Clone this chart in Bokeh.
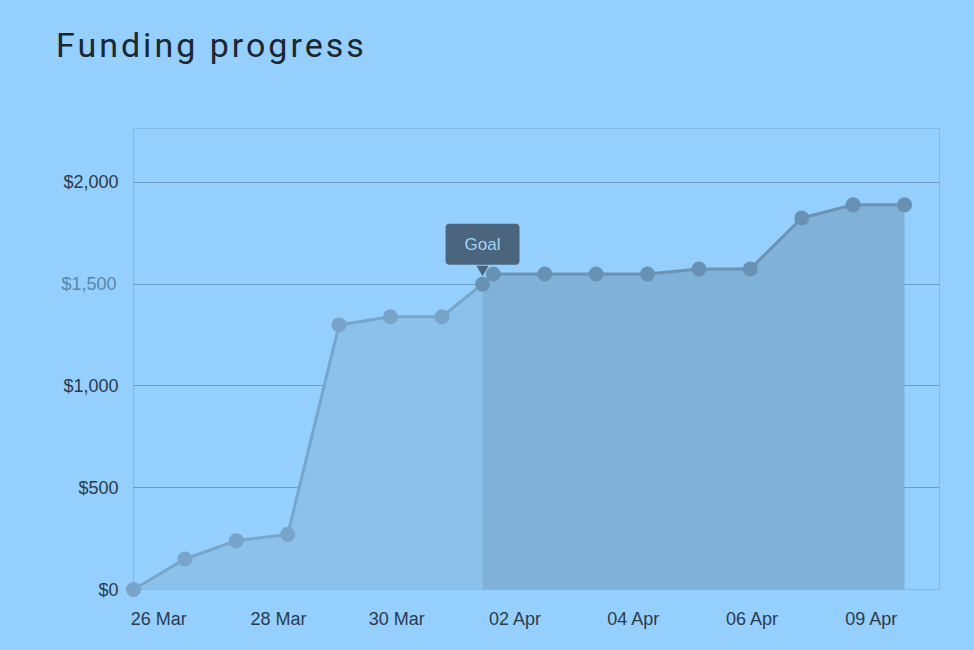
from bokeh.plotting import figure
from bokeh.models import Range1d, FixedTicker, Label, NumeralTickFormatter, LinearAxis, Div
from bokeh.layouts import column
from bokeh.embed import file_html
from bokeh.resources import INLINE

# ---- data ----
day_labels = ["26 Mar", "27 Mar", "28 Mar", "29 Mar", "30 Mar", "31 Mar", "01 Apr",
              "02 Apr", "03 Apr", "04 Apr", "05 Apr", "06 Apr", "07 Apr", "08 Apr",
              "09 Apr", "10 Apr"]
day_index = list(range(len(day_labels)))
amounts = [0, 150, 240, 270, 1300, 1340, 1340,
           1550, 1550, 1550, 1550, 1575, 1575, 1825, 1890, 1890]
goal_pos = 6.79
goal_amount = 1500
tick_pos = [0.49, 2.82, 5.12, 7.43, 9.73, 12.04, 14.36]
tick_text = ["26 Mar", "28 Mar", "30 Mar", "02 Apr", "04 Apr", "06 Apr", "09 Apr"]
y_ticks = [0, 500, 1000, 2000]
goal_ticks = [1500]
grid_ticks = [500, 1000, 1500, 2000]
title_text = "Funding progress"

BG = "#94CFFD"
X_END = 15.68
Y_END = 2265
FRAME_H = 461

pre_x = day_index[:7] + [goal_pos]
pre_y = amounts[:7] + [goal_amount]
post_x = [goal_pos] + day_index[7:]
post_y = [goal_amount] + amounts[7:]

title_div = Div(
    text=('<div style="padding:25px 0 0 56px; font-family: Roboto; font-size: 34px; '
          'line-height: 40px; letter-spacing: 3px; color: #1B2631; white-space: nowrap;">'
          + title_text + '</div>'),
    width=974, height=100, styles={"background-color": BG, "margin": "0"})

p = figure(width=974, height=550, output_backend="svg", toolbar_location=None,
           x_range=Range1d(0, X_END), y_range=Range1d(0, Y_END),
           min_border_left=133, min_border_right=35, min_border_top=28, min_border_bottom=61,
           background_fill_color=BG, border_fill_color=BG)
p.styles = {"background-color": BG}

p.outline_line_color = "#80B8E3"
p.outline_line_width = 1

# areas
p.varea(x=pre_x, y1=[0] * len(pre_x), y2=pre_y, fill_color="#8BC1EA")
p.varea(x=post_x, y1=[0] * len(post_x), y2=post_y, fill_color="#80B1D8")

# grid
p.xgrid.visible = False
p.ygrid.ticker = FixedTicker(ticks=grid_ticks)
p.ygrid.grid_line_color = "#6C9CC3"
p.ygrid.grid_line_width = 1
p.ygrid.level = "underlay"

# lines and points
l1 = p.line(pre_x, pre_y, line_color="#78A6CA", line_width=3)
l2 = p.line(post_x, post_y, line_color="#6A93B5", line_width=3)
s1 = p.scatter(pre_x[:-1], pre_y[:-1], size=15, fill_color="#77A4C8", line_color=None)
s2 = p.scatter(post_x, post_y, size=15, fill_color="#6891B3", line_color=None)
for r in (l1, l2, s1, s2):
    r.level = "overlay"

# goal tooltip
px_to_data = Y_END / FRAME_H
tri = p.scatter([goal_pos], [goal_amount + 15 * px_to_data], marker="inverted_triangle",
                size=12, fill_color="#4A657D", line_color=None)
tri.level = "overlay"
goal_label = Label(x=goal_pos, y=goal_amount, y_offset=40, text="Goal",
                   text_align="center", text_baseline="middle",
                   text_font="Liberation Sans", text_font_size="17px", text_color="#A2D3F8",
                   background_fill_color="#4A657D", border_radius=4,
                   padding=(19, 11), level="overlay")
p.add_layout(goal_label)

# axes
goal_axis = LinearAxis(ticker=FixedTicker(ticks=goal_ticks),
                       formatter=NumeralTickFormatter(format="$0,0"))
p.add_layout(goal_axis, "left")

for ax in (p.xaxis[0], p.yaxis[0], goal_axis):
    ax.axis_line_color = None
    ax.major_tick_line_color = None
    ax.minor_tick_line_color = None
    ax.major_tick_out = 0
    ax.major_tick_in = 0
    ax.minor_tick_out = 0
    ax.minor_tick_in = 0
    ax.major_label_text_font = "Liberation Sans"
    ax.major_label_text_font_size = "18px"
    ax.major_label_text_color = "#2C3B4A"

p.xaxis.ticker = FixedTicker(ticks=tick_pos)
p.xaxis.major_label_overrides = {t: s for t, s in zip(tick_pos, tick_text)}
p.xaxis.major_label_standoff = 19

p.yaxis[0].ticker = FixedTicker(ticks=y_ticks)
p.yaxis[0].formatter = NumeralTickFormatter(format="$0,0")
p.yaxis[0].major_label_standoff = 15

goal_axis.major_label_text_color = "#5B87AA"
goal_axis.major_label_standoff = -56

layout = column(title_div, p, spacing=0, styles={"background-color": BG})

open("out.html", "w").write(file_html(layout, INLINE))
